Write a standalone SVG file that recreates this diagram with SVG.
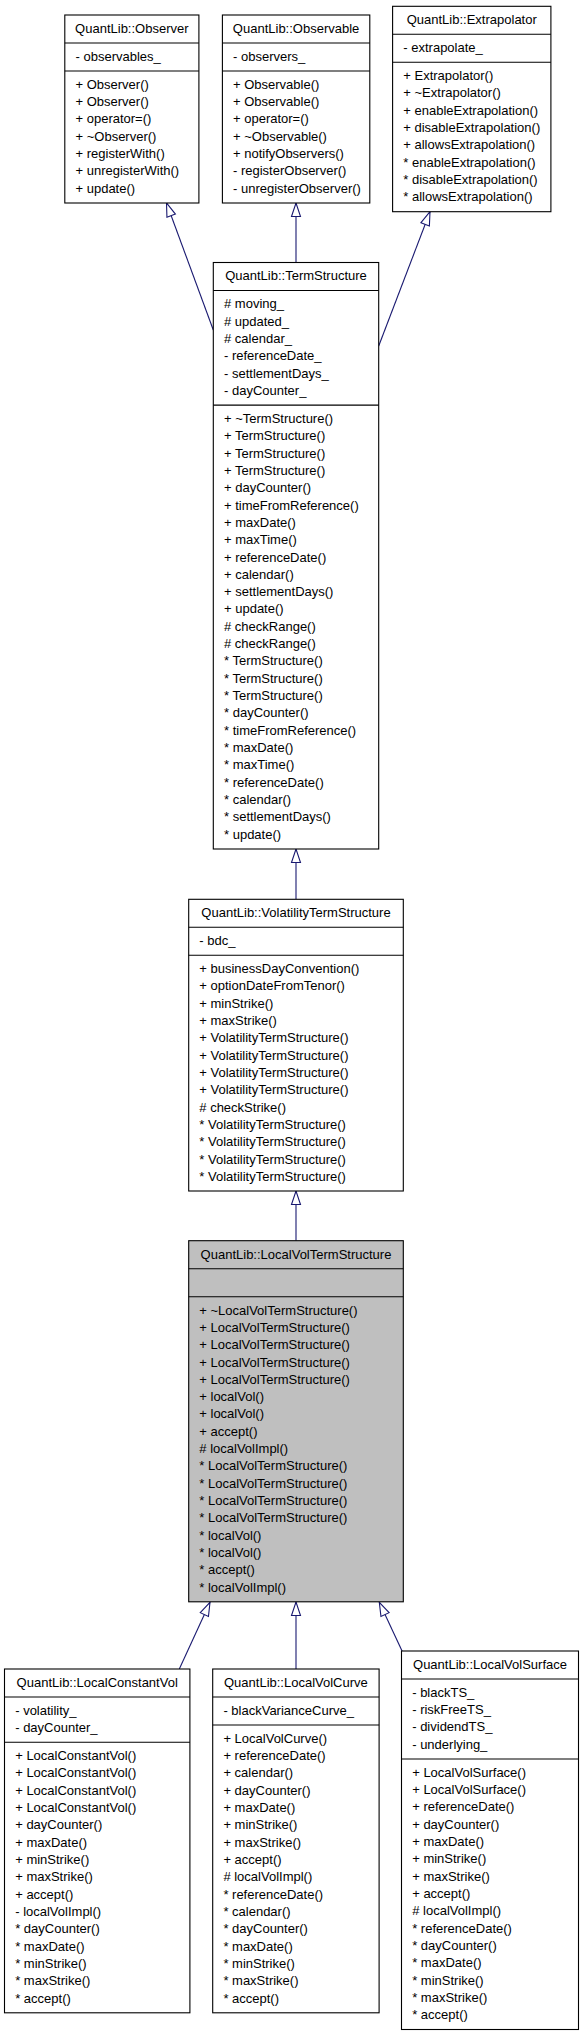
<svg xmlns="http://www.w3.org/2000/svg" width="584" height="2037" viewBox="0 0 584 2037">
<style>
.box{fill:#fff;stroke:#000;stroke-width:1.1}
.sel{fill:#bfbfbf;stroke:#000;stroke-width:1.1}
.div{stroke:#000;stroke-width:1.1}
text{font-family:"Liberation Sans",Arial,Helvetica,sans-serif;font-size:13px;fill:#000}
.t{text-anchor:middle}
.edge{fill:none;stroke:#191970;stroke-width:1.1}
</style>
<defs>
<marker id="inh" viewBox="0 0 14 10" refX="14" refY="5" markerWidth="14" markerHeight="10" markerUnits="userSpaceOnUse" orient="auto" overflow="visible">
<path d="M0.5,0.5 L14,5 L0.5,9.5 Z" fill="#fff" stroke="#191970" stroke-width="1.1"/>
</marker>
</defs>
<rect width="584" height="2037" fill="#fff"/>

<g id="edges">
<path class="edge" marker-end="url(#inh)" d="M213.3,330 L166.5,203"/>
<path class="edge" marker-end="url(#inh)" d="M296,262.5 L296,203"/>
<path class="edge" marker-end="url(#inh)" d="M378.7,346 L430,211.7"/>
<path class="edge" marker-end="url(#inh)" d="M296,899.3 L296,849"/>
<path class="edge" marker-end="url(#inh)" d="M296,1240.7 L296,1191"/>
<path class="edge" marker-end="url(#inh)" d="M179.3,1669 L210,1602.3"/>
<path class="edge" marker-end="url(#inh)" d="M296,1669 L296,1602"/>
<path class="edge" marker-end="url(#inh)" d="M402.3,1651.5 L379.3,1602.3"/>
</g>

<g id="Observer">
<rect class="box" x="64.8" y="15" width="134.1" height="188"/>
<line class="div" x1="64.8" y1="43" x2="198.9" y2="43"/>
<line class="div" x1="64.8" y1="71" x2="198.9" y2="71"/>
<text class="t" x="131.85" y="32.8">QuantLib::Observer</text>
<text x="75.5" y="60.8">- observables_</text>
<text x="75.5" y="88.8">+ Observer()</text>
<text x="75.5" y="106.1">+ Observer()</text>
<text x="75.5" y="123.4">+ operator=()</text>
<text x="75.5" y="140.8">+ ~Observer()</text>
<text x="75.5" y="158.1">+ registerWith()</text>
<text x="75.5" y="175.4">+ unregisterWith()</text>
<text x="75.5" y="192.7">+ update()</text>
</g>

<g id="Observable">
<rect class="box" x="222.4" y="15" width="147.4" height="188"/>
<line class="div" x1="222.4" y1="43" x2="369.8" y2="43"/>
<line class="div" x1="222.4" y1="71" x2="369.8" y2="71"/>
<text class="t" x="296.1" y="32.8">QuantLib::Observable</text>
<text x="233" y="60.8">- observers_</text>
<text x="233" y="88.8">+ Observable()</text>
<text x="233" y="106.1">+ Observable()</text>
<text x="233" y="123.4">+ operator=()</text>
<text x="233" y="140.8">+ ~Observable()</text>
<text x="233" y="158.1">+ notifyObservers()</text>
<text x="233" y="175.4">- registerObserver()</text>
<text x="233" y="192.7">- unregisterObserver()</text>
</g>

<g id="Extrapolator">
<rect class="box" x="392.6" y="6.3" width="158.3" height="205.4"/>
<line class="div" x1="392.6" y1="34.3" x2="550.9" y2="34.3"/>
<line class="div" x1="392.6" y1="62.3" x2="550.9" y2="62.3"/>
<text class="t" x="471.75" y="24.1">QuantLib::Extrapolator</text>
<text x="403.3" y="52.1">- extrapolate_</text>
<text x="403.3" y="80.1">+ Extrapolator()</text>
<text x="403.3" y="97.4">+ ~Extrapolator()</text>
<text x="403.3" y="114.7">+ enableExtrapolation()</text>
<text x="403.3" y="132.1">+ disableExtrapolation()</text>
<text x="403.3" y="149.4">+ allowsExtrapolation()</text>
<text x="403.3" y="166.7">* enableExtrapolation()</text>
<text x="403.3" y="184">* disableExtrapolation()</text>
<text x="403.3" y="201.3">* allowsExtrapolation()</text>
</g>

<g id="TermStructure">
<rect class="box" x="213.3" y="262.5" width="165.4" height="586.5"/>
<line class="div" x1="213.3" y1="290.5" x2="378.7" y2="290.5"/>
<line class="div" x1="213.3" y1="405.1" x2="378.7" y2="405.1"/>
<text class="t" x="296" y="280.3">QuantLib::TermStructure</text>
<text x="224" y="308.3"># moving_</text>
<text x="224" y="325.6"># updated_</text>
<text x="224" y="342.9"># calendar_</text>
<text x="224" y="360.3">- referenceDate_</text>
<text x="224" y="377.6">- settlementDays_</text>
<text x="224" y="394.9">- dayCounter_</text>
<text x="224" y="422.9">+ ~TermStructure()</text>
<text x="224" y="440.2">+ TermStructure()</text>
<text x="224" y="457.5">+ TermStructure()</text>
<text x="224" y="474.9">+ TermStructure()</text>
<text x="224" y="492.2">+ dayCounter()</text>
<text x="224" y="509.5">+ timeFromReference()</text>
<text x="224" y="526.8">+ maxDate()</text>
<text x="224" y="544.1">+ maxTime()</text>
<text x="224" y="561.5">+ referenceDate()</text>
<text x="224" y="578.8">+ calendar()</text>
<text x="224" y="596.1">+ settlementDays()</text>
<text x="224" y="613.4">+ update()</text>
<text x="224" y="630.7"># checkRange()</text>
<text x="224" y="648.1"># checkRange()</text>
<text x="224" y="665.4">* TermStructure()</text>
<text x="224" y="682.7">* TermStructure()</text>
<text x="224" y="700">* TermStructure()</text>
<text x="224" y="717.3">* dayCounter()</text>
<text x="224" y="734.7">* timeFromReference()</text>
<text x="224" y="752">* maxDate()</text>
<text x="224" y="769.3">* maxTime()</text>
<text x="224" y="786.6">* referenceDate()</text>
<text x="224" y="803.9">* calendar()</text>
<text x="224" y="821.3">* settlementDays()</text>
<text x="224" y="838.6">* update()</text>
</g>

<g id="VolatilityTermStructure">
<rect class="box" x="188.7" y="899.3" width="214.6" height="291.7"/>
<line class="div" x1="188.7" y1="927.3" x2="403.3" y2="927.3"/>
<line class="div" x1="188.7" y1="955.3" x2="403.3" y2="955.3"/>
<text class="t" x="296" y="917.1">QuantLib::VolatilityTermStructure</text>
<text x="199.3" y="945.1">- bdc_</text>
<text x="199.3" y="973.1">+ businessDayConvention()</text>
<text x="199.3" y="990.4">+ optionDateFromTenor()</text>
<text x="199.3" y="1007.7">+ minStrike()</text>
<text x="199.3" y="1025.1">+ maxStrike()</text>
<text x="199.3" y="1042.4">+ VolatilityTermStructure()</text>
<text x="199.3" y="1059.7">+ VolatilityTermStructure()</text>
<text x="199.3" y="1077">+ VolatilityTermStructure()</text>
<text x="199.3" y="1094.3">+ VolatilityTermStructure()</text>
<text x="199.3" y="1111.7"># checkStrike()</text>
<text x="199.3" y="1129">* VolatilityTermStructure()</text>
<text x="199.3" y="1146.3">* VolatilityTermStructure()</text>
<text x="199.3" y="1163.6">* VolatilityTermStructure()</text>
<text x="199.3" y="1180.9">* VolatilityTermStructure()</text>
</g>

<g id="LocalVolTermStructure">
<rect class="sel" x="188.7" y="1240.7" width="214.6" height="361.1"/>
<line class="div" x1="188.7" y1="1268.7" x2="403.3" y2="1268.7"/>
<line class="div" x1="188.7" y1="1296.7" x2="403.3" y2="1296.7"/>
<text class="t" x="296" y="1258.5">QuantLib::LocalVolTermStructure</text>
<text x="199.3" y="1314.5">+ ~LocalVolTermStructure()</text>
<text x="199.3" y="1331.8">+ LocalVolTermStructure()</text>
<text x="199.3" y="1349.1">+ LocalVolTermStructure()</text>
<text x="199.3" y="1366.5">+ LocalVolTermStructure()</text>
<text x="199.3" y="1383.8">+ LocalVolTermStructure()</text>
<text x="199.3" y="1401.1">+ localVol()</text>
<text x="199.3" y="1418.4">+ localVol()</text>
<text x="199.3" y="1435.7">+ accept()</text>
<text x="199.3" y="1453.1"># localVolImpl()</text>
<text x="199.3" y="1470.4">* LocalVolTermStructure()</text>
<text x="199.3" y="1487.7">* LocalVolTermStructure()</text>
<text x="199.3" y="1505">* LocalVolTermStructure()</text>
<text x="199.3" y="1522.3">* LocalVolTermStructure()</text>
<text x="199.3" y="1539.7">* localVol()</text>
<text x="199.3" y="1557">* localVol()</text>
<text x="199.3" y="1574.3">* accept()</text>
<text x="199.3" y="1591.6">* localVolImpl()</text>
</g>

<g id="LocalConstantVol">
<rect class="box" x="4.5" y="1669" width="185.4" height="343.8"/>
<line class="div" x1="4.5" y1="1697" x2="189.9" y2="1697"/>
<line class="div" x1="4.5" y1="1742.3" x2="189.9" y2="1742.3"/>
<text class="t" x="97.2" y="1686.8">QuantLib::LocalConstantVol</text>
<text x="15.2" y="1714.8">- volatility_</text>
<text x="15.2" y="1732.1">- dayCounter_</text>
<text x="15.2" y="1760.1">+ LocalConstantVol()</text>
<text x="15.2" y="1777.4">+ LocalConstantVol()</text>
<text x="15.2" y="1794.7">+ LocalConstantVol()</text>
<text x="15.2" y="1812.1">+ LocalConstantVol()</text>
<text x="15.2" y="1829.4">+ dayCounter()</text>
<text x="15.2" y="1846.7">+ maxDate()</text>
<text x="15.2" y="1864">+ minStrike()</text>
<text x="15.2" y="1881.3">+ maxStrike()</text>
<text x="15.2" y="1898.7">+ accept()</text>
<text x="15.2" y="1916">- localVolImpl()</text>
<text x="15.2" y="1933.3">* dayCounter()</text>
<text x="15.2" y="1950.6">* maxDate()</text>
<text x="15.2" y="1967.9">* minStrike()</text>
<text x="15.2" y="1985.3">* maxStrike()</text>
<text x="15.2" y="2002.6">* accept()</text>
</g>

<g id="LocalVolCurve">
<rect class="box" x="212.7" y="1669" width="166.4" height="343.8"/>
<line class="div" x1="212.7" y1="1697" x2="379.1" y2="1697"/>
<line class="div" x1="212.7" y1="1725" x2="379.1" y2="1725"/>
<text class="t" x="295.9" y="1686.8">QuantLib::LocalVolCurve</text>
<text x="223.4" y="1714.8">- blackVarianceCurve_</text>
<text x="223.4" y="1742.8">+ LocalVolCurve()</text>
<text x="223.4" y="1760.1">+ referenceDate()</text>
<text x="223.4" y="1777.4">+ calendar()</text>
<text x="223.4" y="1794.8">+ dayCounter()</text>
<text x="223.4" y="1812.1">+ maxDate()</text>
<text x="223.4" y="1829.4">+ minStrike()</text>
<text x="223.4" y="1846.7">+ maxStrike()</text>
<text x="223.4" y="1864">+ accept()</text>
<text x="223.4" y="1881.4"># localVolImpl()</text>
<text x="223.4" y="1898.7">* referenceDate()</text>
<text x="223.4" y="1916">* calendar()</text>
<text x="223.4" y="1933.3">* dayCounter()</text>
<text x="223.4" y="1950.6">* maxDate()</text>
<text x="223.4" y="1968">* minStrike()</text>
<text x="223.4" y="1985.3">* maxStrike()</text>
<text x="223.4" y="2002.6">* accept()</text>
</g>

<g id="LocalVolSurface">
<rect class="box" x="401.5" y="1651" width="177" height="378.5"/>
<line class="div" x1="401.5" y1="1679" x2="578.5" y2="1679"/>
<line class="div" x1="401.5" y1="1759" x2="578.5" y2="1759"/>
<text class="t" x="490" y="1668.8">QuantLib::LocalVolSurface</text>
<text x="412.2" y="1696.8">- blackTS_</text>
<text x="412.2" y="1714.1">- riskFreeTS_</text>
<text x="412.2" y="1731.4">- dividendTS_</text>
<text x="412.2" y="1748.8">- underlying_</text>
<text x="412.2" y="1776.8">+ LocalVolSurface()</text>
<text x="412.2" y="1794.1">+ LocalVolSurface()</text>
<text x="412.2" y="1811.4">+ referenceDate()</text>
<text x="412.2" y="1828.8">+ dayCounter()</text>
<text x="412.2" y="1846.1">+ maxDate()</text>
<text x="412.2" y="1863.4">+ minStrike()</text>
<text x="412.2" y="1880.7">+ maxStrike()</text>
<text x="412.2" y="1898">+ accept()</text>
<text x="412.2" y="1915.4"># localVolImpl()</text>
<text x="412.2" y="1932.7">* referenceDate()</text>
<text x="412.2" y="1950">* dayCounter()</text>
<text x="412.2" y="1967.3">* maxDate()</text>
<text x="412.2" y="1984.6">* minStrike()</text>
<text x="412.2" y="2002">* maxStrike()</text>
<text x="412.2" y="2019.3">* accept()</text>
</g>
</svg>
